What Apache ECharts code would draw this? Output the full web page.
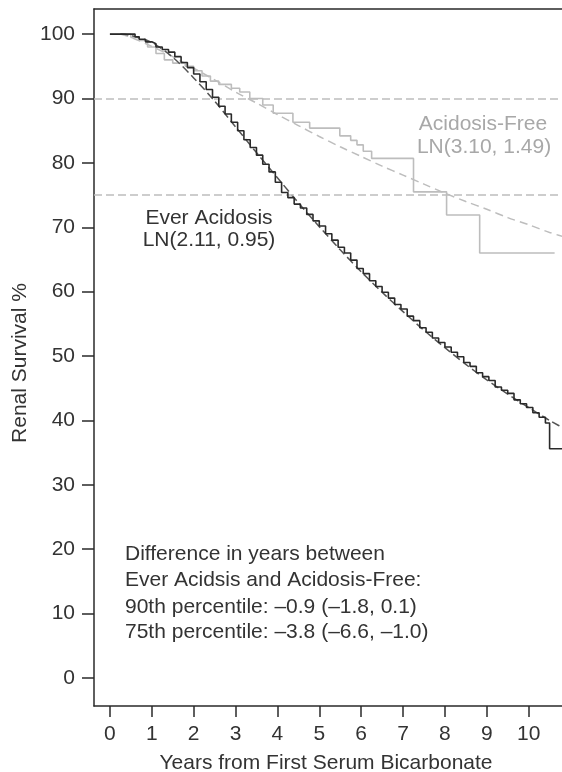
<!DOCTYPE html>
<html>
<head>
<meta charset="utf-8">
<script src="https://cdn.jsdelivr.net/npm/echarts@6/dist/echarts.min.js"></script>
<style>
  html, body { margin: 0; padding: 0; background: #fff; overflow: hidden; }
  #main { width: 562px; height: 772px; }
</style>
</head>
<body>
<div id="main"></div>
<script>
// Ever Acidosis, Kaplan-Meier steps (years, %)
const everTimes = [0, 0.6, 0.7, 0.85, 1.0, 1.1, 1.25, 1.4, 1.55, 1.7, 1.85, 2.0, 2.15, 2.3, 2.45, 2.6, 2.75, 2.9,
  3.05, 3.2, 3.35, 3.5, 3.65, 3.8, 3.95, 4.1, 4.25, 4.4, 4.55, 4.7, 4.85, 5.0, 5.15, 5.3, 5.45, 5.6, 5.75, 5.9,
  6.05, 6.2, 6.35, 6.5, 6.65, 6.8, 6.95, 7.1, 7.25, 7.4, 7.55, 7.7, 7.85, 8.0, 8.15, 8.3, 8.45, 8.6, 8.75, 8.9,
  9.05, 9.2, 9.35, 9.5, 9.65, 9.8, 9.95, 10.1, 10.25, 10.4, 10.5, 10.9];
const everSurv = [100, 99.6, 99.2, 98.8, 98.5, 98.0, 97.6, 97.2, 96.5, 95.6, 94.8, 93.8, 92.6, 91.4, 90.2, 88.8, 87.6, 86.3,
  85.0, 83.6, 82.4, 81.2, 79.8, 78.6, 77.0, 75.4, 74.6, 73.6, 73.0, 72.0, 71.0, 70.2, 69.0, 68.0, 66.9, 66.0, 64.9, 63.6,
  62.8, 61.7, 60.8, 59.9, 59.0, 58.0, 57.3, 56.2, 55.5, 54.4, 53.7, 52.8, 52.1, 51.4, 50.6, 49.9, 49.0, 48.4, 47.4, 46.8,
  46.2, 45.2, 44.7, 44.2, 43.2, 42.6, 42.0, 41.2, 40.5, 39.6, 35.6, 35.6];

// Ever Acidosis, lognormal fit LN(2.11, 0.95)
const everFitTimes = [0.25, 0.5, 1, 1.5, 2, 2.5, 3, 3.5, 4, 4.5, 5, 5.5, 6, 6.5, 7, 7.5, 8, 8.5, 9, 9.5, 10, 10.5, 11];
const everFitSurv = [100, 99.8, 98.7, 96.4, 93.2, 89.6, 85.6, 81.6, 77.7, 73.8, 70.1, 66.5, 63.1, 59.9, 56.9, 54.0, 51.3,
  48.7, 46.3, 44.1, 42.0, 40.0, 38.2];

// Acidosis-Free, Kaplan-Meier steps
const freeTimes = [0, 0.5, 0.7, 0.9, 1.1, 1.3, 1.5, 1.8, 2.0, 2.2, 2.4, 2.6, 2.9, 3.1, 3.34, 3.65, 3.9, 4.37, 4.77,
  5.49, 5.75, 5.9, 6.05, 6.25, 7.25, 8.04, 8.83, 10.62];
const freeSurv = [100, 99.5, 99, 98, 97, 96, 95.5, 95, 94.3, 93.5, 92.7, 92.2, 91.6, 91, 90, 89, 87.7, 86.3, 85.4,
  84.2, 83.5, 82.8, 81.8, 80.7, 75.5, 71.9, 66.0, 66.0];

// Acidosis-Free, lognormal fit LN(3.10, 1.49)
const freeFitTimes = [0.25, 0.5, 1, 1.5, 2, 2.5, 3, 3.5, 4, 4.5, 5, 5.5, 6, 6.5, 7, 7.5, 8, 8.5, 9, 9.5, 10, 10.5, 11];
const freeFitSurv = [100, 99.5, 98.1, 96.5, 94.7, 92.9, 91.0, 89.3, 87.5, 85.8, 84.1, 82.5, 81.0, 79.5, 78.1, 76.7, 75.3,
  74.0, 72.8, 71.5, 70.4, 69.2, 68.2];

const refLines = [90, 75];
const xTicks = [0, 1, 2, 3, 4, 5, 6, 7, 8, 9, 10];
const yTicks = [0, 10, 20, 30, 40, 50, 60, 70, 80, 90, 100];

const noteLines = [
  'Difference in years between',
  'Ever Acidsis and Acidosis-Free:',
  '90th percentile: \u20130.9 (\u20131.8, 0.1)',
  '75th percentile: \u20133.8 (\u20136.6, \u20131.0)'
];

function zip(xs, ys) {
  return xs.map((x, i) => [x, ys[i]]);
}

const FONT = '"Liberation Sans", Arial, Helvetica, sans-serif';
const FS = 21;
const DARK = '#2a2a2a';
const LIGHT = '#bdbdbd';
const X_MIN = -0.38;
const X_MAX = 10.82;

var myChart = echarts.init(document.getElementById('main'));

function label(text, x, y, fill, align, rotation) {
  return {
    type: 'text', x: x, y: y, z: 10, rotation: rotation || 0,
    style: { text: text, fill: fill, font: FS + 'px ' + FONT, textAlign: align || 'center', textVerticalAlign: 'middle' }
  };
}

var option = {
  animation: false,
  backgroundColor: '#fff',
  textStyle: { fontFamily: FONT },
  grid: {
    left: 94, top: 9, width: 469, height: 697,
    containLabel: false, outerBoundsMode: 'none', show: false
  },
  xAxis: [{
    type: 'value', min: X_MIN, max: X_MAX,
    axisLine: { show: true, onZero: false, lineStyle: { color: DARK, width: 1.5 } },
    axisTick: { show: true, length: 11, customValues: xTicks, lineStyle: { color: DARK, width: 1.5 } },
    axisLabel: { customValues: xTicks, margin: 18, fontSize: FS, color: '#333', fontFamily: FONT },
    splitLine: { show: false }
  }, {
    // top edge of the frame
    type: 'value', position: 'top', min: X_MIN, max: X_MAX,
    axisLine: { show: true, onZero: false, lineStyle: { color: DARK, width: 1.5 } },
    axisTick: { show: false }, axisLabel: { show: false }, splitLine: { show: false }
  }],
  yAxis: {
    type: 'value', min: -4.35, max: 103.9,
    axisLine: { show: true, onZero: false, lineStyle: { color: DARK, width: 1.5 } },
    axisTick: { show: true, length: 12, customValues: yTicks, lineStyle: { color: DARK, width: 1.5 } },
    axisLabel: { customValues: yTicks, margin: 19, fontSize: FS, color: '#333', fontFamily: FONT },
    splitLine: { show: false }
  },
  series: [
    {
      name: 'Acidosis-Free fit', type: 'line', data: zip(freeFitTimes, freeFitSurv),
      smooth: 0.3, symbol: 'none', z: 2,
      lineStyle: { color: LIGHT, width: 1.5, type: [8, 5] },
      markLine: {
        silent: true, symbol: 'none', label: { show: false },
        lineStyle: { color: LIGHT, width: 1.5, type: [8, 4] },
        data: refLines.map(v => ({ yAxis: v }))
      }
    },
    {
      name: 'Acidosis-Free', type: 'line', data: zip(freeTimes, freeSurv),
      step: 'end', symbol: 'none', z: 3,
      lineStyle: { color: LIGHT, width: 1.6 }
    },
    {
      name: 'Ever Acidosis fit', type: 'line', data: zip(everFitTimes, everFitSurv),
      smooth: 0.3, symbol: 'none', z: 4,
      lineStyle: { color: '#555', width: 1.5, type: [8, 4] }
    },
    {
      name: 'Ever Acidosis', type: 'line', data: zip(everTimes, everSurv),
      step: 'end', symbol: 'none', z: 5,
      lineStyle: { color: DARK, width: 1.6 }
    }
  ],
  graphic: [
    label('Acidosis-Free', 483, 124, '#a8a8a8'),
    label('LN(3.10, 1.49)', 484, 147, '#a8a8a8'),
    label('Ever Acidosis', 209, 218, '#333'),
    label('LN(2.11, 0.95)', 209, 240, '#333'),
    label('Years from First Serum Bicarbonate', 326, 763, '#333'),
    label('Renal Survival %', 20, 363, '#333', 'center', Math.PI / 2)
  ].concat(noteLines.map((t, i) => label(t, 125, [554, 580, 607, 632][i], '#333', 'left')))
};

myChart.setOption(option);
</script>
</body>
</html>
